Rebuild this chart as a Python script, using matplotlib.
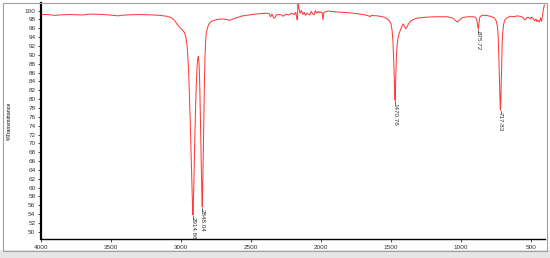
import matplotlib
matplotlib.use("Agg")
import matplotlib.pyplot as plt
from matplotlib.patches import Rectangle

# FTIR spectrum (wavenumber in cm-1, %T)
wavenumber = [
    4000, 3950, 3900, 3870, 3800, 3700, 3650, 3550, 3450, 3400, 3300, 3200,
    3150, 3100, 3070, 3050, 3030, 3010, 2990, 2975, 2965, 2955, 2950, 2945,
    2940, 2935, 2930, 2925, 2920, 2917, 2914.86, 2912, 2908, 2904, 2900, 2895,
    2890, 2885, 2880, 2876, 2872, 2868, 2864, 2860, 2856, 2852, 2850, 2848.04,
    2846, 2843, 2840, 2836, 2832, 2828, 2824, 2820, 2810, 2800, 2780, 2750,
    2710, 2680, 2650, 2620, 2560, 2470, 2390, 2370, 2360, 2350, 2340, 2330,
    2320, 2300, 2280, 2270, 2250, 2230, 2210, 2190, 2180, 2172, 2168, 2166,
    2164, 2160, 2155, 2150, 2140, 2130, 2120, 2110, 2100, 2090, 2080, 2070,
    2060, 2050, 2040, 2030, 2020, 2010, 2000, 1992, 1986, 1980, 1970, 1950,
    1900, 1850, 1800, 1750, 1700, 1660, 1650, 1640, 1600, 1560, 1530, 1510,
    1500, 1492, 1486, 1482, 1478, 1475, 1472.5, 1470.76, 1469, 1466, 1462, 1457,
    1450, 1440, 1430, 1420, 1412, 1405, 1395, 1385, 1375, 1360, 1340, 1310,
    1250, 1180, 1100, 1060, 1035, 1025, 1010, 990, 950, 910, 895, 887,
    882, 878, 875.72, 873, 869, 864, 850, 820, 790, 760, 748, 740,
    734, 730, 726, 722, 719.5, 717.83, 716, 713, 710, 706, 702, 696,
    688, 675, 650, 620, 600, 580, 560, 548, 540, 530, 520, 505,
    495, 485, 475, 465, 458, 450, 440, 432, 425, 418, 412, 405, 400,
]
transmittance = [
    99.1, 99.1, 98.9, 99.0, 99.1, 99.0, 99.2, 99.1, 98.8, 99.0, 99.1, 99.0,
    98.9, 98.7, 98.4, 97.9, 97.0, 96.2, 95.6, 95.0, 94.0, 91.5, 89.0, 86.0,
    81.0, 76.0, 70.0, 64.0, 58.5, 55.5, 53.8, 56.0, 61.0, 67.0, 73.0, 79.0,
    84.0, 87.5, 89.2, 89.6, 88.5, 85.5, 80.0, 73.0, 66.0, 60.0, 57.0, 55.6,
    58.0, 64.0, 71.0, 78.0, 85.0, 90.0, 93.0, 94.8, 96.2, 97.0, 97.6, 97.9,
    98.1, 98.0, 97.8, 98.2, 98.8, 99.2, 99.4, 99.3, 98.6, 99.2, 98.4, 98.3,
    99.0, 99.1, 99.0, 98.7, 99.2, 99.0, 99.4, 99.1, 99.6, 98.0, 97.9, 100.5,
    101.8, 100.8, 100.2, 99.4, 100.0, 99.1, 99.6, 98.9, 99.4, 99.2, 99.0, 99.8,
    99.3, 99.0, 100.0, 99.4, 99.8, 99.5, 99.7, 99.5, 97.9, 99.6, 99.7, 99.9,
    99.7, 99.6, 99.5, 99.3, 99.1, 98.8, 98.6, 98.9, 98.8, 98.6, 98.2, 97.6,
    97.0, 95.5, 93.0, 90.0, 86.0, 83.0, 81.0, 79.7, 81.5, 85.0, 89.0, 92.0,
    93.8, 95.0, 95.8, 96.6, 97.0, 96.5, 95.9, 96.3, 97.0, 97.6, 98.0, 98.3,
    98.5, 98.6, 98.6, 98.3, 97.6, 97.4, 97.9, 98.4, 98.6, 98.6, 98.4, 97.8,
    96.9, 96.0, 95.8, 96.6, 97.9, 98.6, 98.9, 98.9, 98.7, 98.3, 97.6, 96.5,
    94.0, 90.0, 85.0, 80.5, 78.2, 77.5, 79.0, 83.0, 88.0, 92.5, 95.0, 96.8,
    97.8, 98.3, 98.7, 98.6, 98.8, 98.7, 98.5, 98.0, 97.9, 98.4, 98.5, 98.1,
    98.5, 98.2, 97.7, 98.1, 97.5, 97.8, 97.4, 98.3, 97.6, 98.8, 100.2, 101.2, 101.3,
]

# labelled peaks
peak_wn = [2914.86, 2848.04, 1470.76, 875.72, 717.83]
peak_t = [53.8, 55.6, 79.7, 95.8, 77.5]
peak_labels = ["2914.86", "2848.04", "1470.76", "875.72", "717.83"]

x_ticks = [4000, 3500, 3000, 2500, 2000, 1500, 1000, 500]
y_ticks = list(range(50, 101, 2))

fig = plt.figure(figsize=(5.5, 2.58), dpi=100)
fig.patch.set_facecolor("white")

# outer frame and grey strip at the bottom of the picture
fig.patches.append(Rectangle((0, 0), 1, 8 / 258, transform=fig.transFigure,
                             facecolor="#e6e6e6", edgecolor="none", zorder=0))
fig.patches.append(Rectangle((3 / 550, 7 / 258), 544 / 550, 248 / 258,
                             transform=fig.transFigure, facecolor="none",
                             edgecolor="#a0a0a0", linewidth=0.8, zorder=0))

ax = fig.add_axes([41 / 550, 1 - 239 / 258, 504 / 550, 236 / 258])
ax.patch.set_alpha(0)
ax.plot(wavenumber, transmittance, color="#ff3c3c", linewidth=0.75)

for wn, t, lab in zip(peak_wn, peak_t, peak_labels):
    ax.plot([wn, wn], [t - 0.1, t - 0.9], color="#333333", linewidth=0.5)
    ax.text(wn, t - 0.5, lab, rotation=270, ha="center", va="top",
            fontsize=4.5, color="#333333",
            family=["Liberation Sans Narrow", "Liberation Sans", "DejaVu Sans"])

ax.set_xlim(4000, 400)
ax.set_ylim(48.4, 101.7)
ax.set_xticks(x_ticks)
ax.set_yticks(y_ticks)
ax.tick_params(axis="both", direction="out", length=2.5, width=0.6,
               labelsize=4.6, pad=1.5, colors="#333333")
for lab in ax.get_xticklabels() + ax.get_yticklabels():
    lab.set_family("Liberation Sans")

ax.spines["top"].set_visible(False)
ax.spines["right"].set_visible(False)
ax.spines["left"].set_linewidth(1.6)
ax.spines["bottom"].set_linewidth(1.0)

ax.set_xlabel("Wavenumbers (cm-1)", fontsize=5.2, family="Liberation Sans",
              labelpad=0.5)
ax.set_ylabel("%Transmittance", fontsize=3.8, family="Liberation Sans",
              labelpad=9)

fig.savefig("out.png", dpi=100)
